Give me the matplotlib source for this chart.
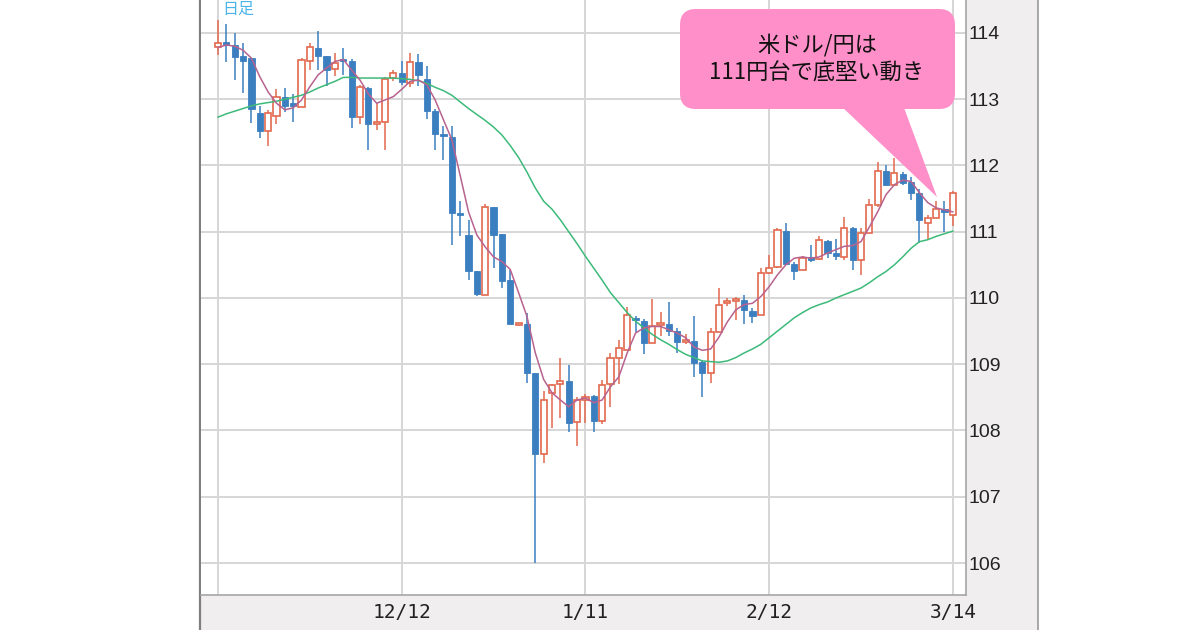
import pandas as pd
import matplotlib
matplotlib.use("Agg")
import matplotlib.pyplot as plt
from matplotlib.patches import FancyBboxPatch, Polygon, Rectangle

# daily USD/JPY candles, weekdays 2018-11-12 .. 2019-03-14
dates = pd.bdate_range("2018-11-12", "2019-03-14")

opens = [113.79, 113.86, 113.82, 113.65, 113.62, 112.79, 112.52, 112.75, 113.04, 112.94,
         112.88, 113.58, 113.78, 113.65, 113.46, 113.60, 113.58, 112.73, 113.17, 112.63,
         112.65, 113.32, 113.39, 113.24, 113.56, 113.30, 112.83, 112.48, 112.43, 111.29,
         110.95, 110.41, 110.05, 111.38, 110.97, 110.27, 109.59, 109.61, 108.87, 107.65,
         108.57, 108.70, 108.74, 108.13, 108.46, 108.52, 108.15, 108.70, 109.10, 109.22,
         109.70, 109.66, 109.32, 109.59, 109.60, 109.50, 109.34, 109.35, 109.04, 108.87,
         109.48, 109.93, 109.95, 109.97, 109.81, 109.75, 110.38, 110.47, 111.01, 110.52,
         110.43, 110.62, 110.59, 110.86, 110.68, 110.62, 111.06, 110.58, 110.98, 111.40,
         111.92, 111.71, 111.87, 111.75, 111.59, 111.13, 111.20, 111.35, 111.25]
highs = [114.20, 114.14, 114.00, 113.85, 113.62, 112.90, 112.84, 113.16, 113.17, 113.08,
         113.62, 113.85, 114.03, 113.65, 113.70, 113.77, 113.60, 113.22, 113.18, 112.94,
         113.34, 113.44, 113.57, 113.70, 113.68, 113.50, 112.85, 112.60, 112.60, 111.46,
         111.18, 110.41, 111.42, 111.38, 110.97, 110.43, 109.63, 109.77, 108.87, 108.60,
         108.70, 109.10, 108.99, 108.50, 108.55, 108.53, 108.76, 109.17, 109.37, 109.87,
         109.73, 109.68, 109.99, 109.79, 109.94, 109.55, 109.45, 109.73, 109.07, 109.55,
         110.15, 110.00, 110.02, 110.04, 109.85, 110.46, 110.65, 111.05, 111.13, 110.55,
         110.63, 110.80, 110.94, 110.87, 110.89, 111.22, 111.07, 111.06, 111.49, 112.05,
         112.00, 112.11, 111.90, 111.82, 111.65, 111.25, 111.47, 111.47, 111.62]
lows = [113.67, 113.56, 113.29, 113.10, 112.64, 112.42, 112.30, 112.63, 112.80, 112.66,
        112.88, 113.44, 113.44, 113.20, 113.35, 113.37, 112.56, 112.63, 112.24, 112.54,
        112.24, 113.28, 113.22, 113.18, 113.20, 112.70, 112.24, 112.09, 110.80, 110.93,
        110.27, 110.03, 110.05, 110.46, 110.15, 109.60, 109.58, 108.72, 106.00, 107.51,
        108.04, 108.19, 107.97, 107.76, 108.12, 107.98, 108.10, 108.36, 108.70, 109.22,
        109.48, 109.16, 109.32, 109.42, 109.42, 109.17, 109.30, 108.80, 108.50, 108.72,
        109.48, 109.88, 109.67, 109.60, 109.63, 109.74, 110.36, 110.46, 110.52, 110.27,
        110.43, 110.55, 110.57, 110.60, 110.58, 110.57, 110.43, 110.35, 110.98, 111.38,
        111.71, 111.69, 111.71, 111.48, 110.83, 110.89, 111.20, 111.00, 111.08]
closes = [113.85, 113.82, 113.64, 113.58, 112.85, 112.52, 112.79, 113.04, 112.90, 112.90,
          113.59, 113.79, 113.65, 113.44, 113.55, 113.57, 112.73, 113.19, 112.63, 112.66,
          113.31, 113.39, 113.26, 113.56, 113.36, 112.83, 112.48, 112.44, 111.29, 111.25,
          110.41, 110.06, 111.38, 110.95, 110.26, 109.60, 109.62, 108.87, 107.65, 108.46,
          108.69, 108.75, 108.12, 108.46, 108.50, 108.15, 108.69, 109.10, 109.24, 109.75,
          109.67, 109.32, 109.58, 109.61, 109.50, 109.33, 109.36, 109.02, 108.87, 109.48,
          109.90, 109.96, 109.97, 109.82, 109.73, 110.38, 110.45, 111.03, 110.52, 110.41,
          110.61, 110.58, 110.88, 110.68, 110.64, 111.06, 110.57, 110.98, 111.40, 111.92,
          111.71, 111.89, 111.74, 111.59, 111.18, 111.20, 111.35, 111.30, 111.59]

# moving averages as drawn on the source chart
ma_short = [113.78, 113.82, 113.80, 113.74, 113.62, 113.34, 113.11, 112.94, 112.84, 112.87,
            112.99, 113.19, 113.37, 113.47, 113.57, 113.60, 113.44, 113.29, 113.08, 112.94,
            112.99, 113.04, 113.15, 113.27, 113.29, 113.22, 112.99, 112.69, 112.39, 111.85,
            111.30, 110.95, 110.77, 110.62, 110.55, 110.43, 110.08, 109.72, 109.17, 108.77,
            108.57, 108.46, 108.36, 108.46, 108.49, 108.42, 108.46, 108.66, 108.81, 109.17,
            109.47, 109.55, 109.57, 109.57, 109.52, 109.47, 109.40, 109.26, 109.21, 109.23,
            109.41, 109.64, 109.82, 109.90, 109.92, 110.02, 110.17, 110.35, 110.50, 110.60,
            110.62, 110.60, 110.62, 110.68, 110.73, 110.78, 110.79, 110.85, 111.07, 111.30,
            111.56, 111.71, 111.78, 111.76, 111.59, 111.44, 111.36, 111.33, 111.30]
ma_long = [112.73, 112.78, 112.82, 112.86, 112.90, 112.93, 112.95, 112.97, 113.00, 113.03,
           113.06, 113.11, 113.17, 113.22, 113.27, 113.33, 113.33, 113.32, 113.32, 113.32,
           113.32, 113.32, 113.31, 113.30, 113.28, 113.24, 113.18, 113.13, 113.06, 112.96,
           112.86, 112.77, 112.68, 112.58, 112.46, 112.30, 112.12, 111.90, 111.66, 111.46,
           111.34, 111.18, 111.00, 110.82, 110.63, 110.45, 110.27, 110.08, 109.93, 109.78,
           109.65, 109.55, 109.45, 109.37, 109.30, 109.22, 109.15, 109.10, 109.05, 109.04,
           109.03, 109.05, 109.10, 109.17, 109.23, 109.30, 109.40, 109.50, 109.60, 109.70,
           109.78, 109.85, 109.90, 109.94, 110.00, 110.05, 110.10, 110.15, 110.23, 110.32,
           110.40, 110.50, 110.62, 110.75, 110.85, 110.88, 110.93, 110.97, 111.01]

tick_dates = ["2018-11-12", "2018-12-12", "2019-01-11", "2019-02-12", "2019-03-14"]
tick_labels = ["", "12/12", "1/11", "2/12", "3/14"]
y_ticks = [106, 107, 108, 109, 110, 111, 112, 113, 114]

callout_lines = ["米ドル/円は", "111円台で底堅い動き"]

UP = "#e2694e"
DOWN = "#3c7fc0"
GRID = "#d6d6d6"

fig = plt.figure(figsize=(12, 6.3), dpi=100)
fig.patch.set_facecolor("white")

# background layer in pixel coords: grey panel + borders
bg = fig.add_axes([0, 0, 1, 1], zorder=0)
bg.set_xlim(0, 1200)
bg.set_ylim(630, 0)
bg.axis("off")
bg.add_patch(Rectangle((200, 0), 838, 630, facecolor="#f0eeef", edgecolor="none"))
bg.plot([200, 200], [0, 630], color="#7f7f7f", lw=1.6)
bg.plot([1038, 1038], [0, 630], color="#9a9a9a", lw=1.2)

ax = fig.add_axes([201 / 1200, 35 / 630, 765 / 1200, 595 / 630], zorder=1)
ax.set_facecolor("white")

x = list(range(len(dates)))
for i in x:
    o, h, l, c = opens[i], highs[i], lows[i], closes[i]
    col = UP if c >= o else DOWN
    ax.vlines(i, l, h, color=col, lw=1.1, zorder=2)
    lo = min(o, c)
    height = max(abs(c - o), 0.03)
    if c >= o:
        ax.bar(i, height, bottom=lo, width=0.74, facecolor="white",
               edgecolor=col, linewidth=1.2, zorder=3)
    else:
        ax.bar(i, height, bottom=lo, width=0.74, facecolor=col,
               edgecolor=col, linewidth=0.6, zorder=3)

ax.plot(x, ma_long, color="#3dba7a", lw=1.1, zorder=4)
ax.plot(x, ma_short, color="#b8628f", lw=1.1, zorder=4)

ax.set_xlim(-2.04, 89.58)
ax.set_ylim(105.517, 114.498)

date_list = [d.strftime("%Y-%m-%d") for d in dates]
ax.set_xticks([date_list.index(d) for d in tick_dates])
ax.set_xticklabels(tick_labels, fontsize=14, family="DejaVu Sans Mono", color="#222222")
ax.set_yticks(y_ticks)
ax.set_yticklabels([str(v) for v in y_ticks], fontsize=14, family="Liberation Sans",
                   color="#222222")
ax.yaxis.tick_right()
ax.tick_params(axis="y", length=0, pad=2)
ax.tick_params(axis="x", length=0, pad=6)
ax.grid(True, color=GRID, lw=1.4, zorder=0)
ax.set_axisbelow(True)

for side in ["top", "left"]:
    ax.spines[side].set_visible(False)
for side in ["right", "bottom"]:
    ax.spines[side].set_color("#a6a6a6")
    ax.spines[side].set_linewidth(1.2)

# overlay layer: label and callout
ov = fig.add_axes([0, 0, 1, 1], zorder=5)
ov.set_xlim(0, 1200)
ov.set_ylim(630, 0)
ov.axis("off")
ov.patch.set_alpha(0)

ov.text(222, 1, "日足", fontsize=11.5, color="#4ab4ea", va="top", ha="left",
        family=["Noto Sans CJK JP", "DejaVu Sans"])

pink = "#ff8fc8"
ov.add_patch(FancyBboxPatch((680, 9), 275, 100, boxstyle="round,pad=0,rounding_size=16",
                            facecolor=pink, edgecolor="none"))
ov.add_patch(Polygon([(840, 105), (903, 105), (937, 197)], closed=True,
                     facecolor=pink, edgecolor="none"))
ov.text(817, 45, callout_lines[0], fontsize=16, ha="center", va="center", color="#111111",
        family=["Noto Sans CJK JP", "DejaVu Sans"])
ov.text(817, 73, callout_lines[1], fontsize=16, ha="center", va="center", color="#111111",
        family=["Noto Sans CJK JP", "DejaVu Sans"])

fig.savefig("out.png", dpi=100)
